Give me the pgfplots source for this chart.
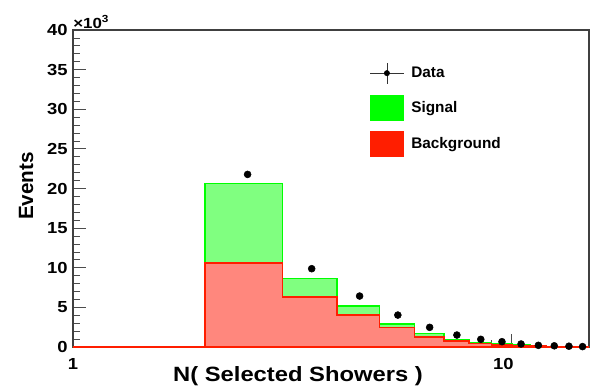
\documentclass[border=0pt]{standalone}
\usepackage{fontspec}
\setmainfont{Liberation Sans}
\usepackage{pgfplots}
\pgfplotsset{compat=1.18}
\definecolor{sigline}{RGB}{0,255,0}
\definecolor{sigfill}{RGB}{128,255,128}
\definecolor{bkgline}{RGB}{255,30,0}
\definecolor{bkgfill}{RGB}{255,135,125}
\begin{document}
\begin{tikzpicture}
\begin{axis}[
    name=ax,
    scale only axis,
    width=387pt, height=237.75pt,
    xmode=log, xmin=1, xmax=15,
    ymin=0, ymax=40,
    xtick={1,10}, xticklabels={1,{10\hbox to 11pt{}}},
    minor xtick={2,3,4,5,6,7,8,9},
    ytick={0,5,...,40}, minor y tick num=4,
    tick align=inside, xtick pos=bottom, ytick pos=left,
    major tick length=10pt, minor tick length=5pt,
    /pgf/number format/assume math mode=true,
    tick label style={font=\bfseries\fontsize{12}{14}\selectfont, xscale=1.15},
    xticklabel style={yshift=-5pt},
    axis line style={line width=0.8pt, black!75},
    tick style={black!70, line width=0.6pt},
    legend style={at={(0.567,0.908)}, anchor=north west, draw=none, fill=none,
        font=\bfseries\fontsize{11.5}{13}\selectfont, row sep=8pt,
        /tikz/every odd column/.append style={column sep=3.5pt}},
    legend cell align=left,
]
% signal + background (stack total)
\addplot[forget plot, const plot mark left, draw=sigline, fill=sigfill, line width=1.2pt]
coordinates {(1,0) (2,20.64) (3,8.66) (4,5.17) (5,2.94) (6,1.68) (7,0.97) (8,0.55)
 (9,0.38) (10,0.22) (11,0.12) (12,0.07) (13,0.04) (14,0.02) (15,0.02)} \closedcycle;
% background
\addplot[forget plot, const plot mark left, draw=bkgline, fill=bkgfill, line width=1.2pt]
coordinates {(1,0) (2,10.63) (3,6.34) (4,4.03) (5,2.44) (6,1.30) (7,0.76) (8,0.46)
 (9,0.25) (10,0.15) (11,0.09) (12,0.05) (13,0.03) (14,0.02) (15,0.02)} \closedcycle;
% data
\addplot[forget plot, only marks, mark=*, mark size=2.6pt, black]
coordinates {(2.5,21.78) (3.5,9.88) (4.5,6.43) (5.5,4.03) (6.5,2.48) (7.5,1.51)
 (8.5,0.97) (9.5,0.67) (10.5,0.38) (11.5,0.21) (12.5,0.15) (13.5,0.10) (14.5,0.05)};

\addlegendimage{legend image code/.code={
    \draw[black!80, line width=0.6pt] (0pt,0pt) -- (25pt,0pt) (12.5pt,-8pt) -- (12.5pt,8pt);
    \fill[black] (12.5pt,0pt) circle (2pt);}}
\addlegendentry{Data}
\addlegendimage{legend image code/.code={
    \fill[sigline] (0pt,-9.4pt) rectangle (25pt,9.4pt);}}
\addlegendentry{Signal}
\addlegendimage{legend image code/.code={
    \fill[bkgline] (0pt,-9.4pt) rectangle (25pt,9.4pt);}}
\addlegendentry{Background}
\end{axis}
\node[anchor=south west, inner sep=0pt, xscale=1.15, font=\bfseries\fontsize{11}{13}\selectfont]
    at ([yshift=1pt]ax.north west) {×10\textsuperscript{3}};
\node[xscale=1.15, font=\bfseries\fontsize{15.5}{18}\selectfont]
    at ([xshift=168.75pt, yshift=-21.75pt]ax.south west) {N( Selected Showers )};
\node[rotate=90, font=\bfseries\fontsize{15.5}{18}\selectfont]
    at ([xshift=-35.25pt, yshift=120.75pt]ax.south west) {Events};
\pgfresetboundingbox
\path ([xshift=-54.75pt, yshift=-31.5pt]ax.south west) rectangle ++(446.25pt, 291.75pt);
\end{tikzpicture}
\end{document}
